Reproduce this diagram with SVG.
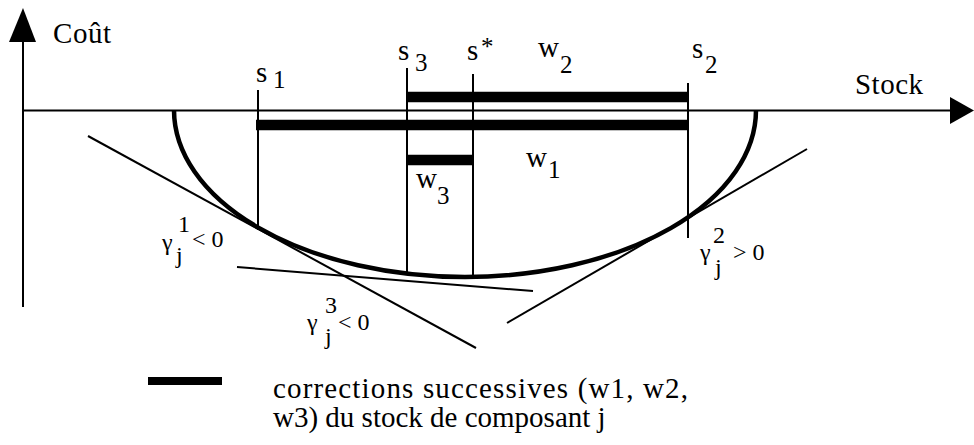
<svg xmlns="http://www.w3.org/2000/svg" width="974" height="445" viewBox="0 0 974 445">
<style>
text{font-family:"Liberation Serif","DejaVu Serif",serif;fill:#000}
.t{font-size:29px}
.sub{font-size:25px}
.g{font-size:24px}
.thin{stroke:#000;stroke-width:2;fill:none}
.bar{stroke:#000;stroke-width:10.5;fill:none}
.curve{stroke:#000;stroke-width:4.5;fill:none}
</style>
<rect width="974" height="445" fill="#fff"/>
<g id="axes">
<line class="thin" x1="23" y1="40" x2="23" y2="307"/>
<polygon points="23,8 9,42 36,42" fill="#000"/>
<line class="thin" x1="23" y1="110.5" x2="952" y2="110.5"/>
<polygon points="974,110.5 950,97 950,124" fill="#000"/>
<text class="t" x="53" y="43" textLength="58">Coût</text>
<text class="t" x="855" y="94" textLength="68">Stock</text>
</g>
<g id="curve">
<path class="curve" d="M174 110 A291 167 0 0 0 756 110"/>
</g>
<g id="connectors">
<line class="thin" x1="88" y1="136" x2="476" y2="348"/>
<line class="thin" x1="237" y1="267" x2="533" y2="291"/>
<line class="thin" x1="507" y1="323" x2="807" y2="149"/>
</g>
<g id="verticals">
<line class="thin" x1="258" y1="90" x2="258" y2="230"/>
<line class="thin" x1="407" y1="68" x2="407" y2="273"/>
<line class="thin" x1="473" y1="74" x2="473" y2="277"/>
<line class="thin" x1="688" y1="83" x2="688" y2="238"/>
</g>
<g id="bars">
<line class="bar" x1="407" y1="97" x2="688" y2="97"/>
<line class="bar" x1="256" y1="125" x2="688" y2="125"/>
<line class="bar" x1="407" y1="160" x2="473" y2="160"/>
</g>
<g id="labels">
<text class="t" x="256" y="82">s</text><text class="sub" x="273" y="88">1</text>
<text class="t" x="398" y="60">s</text><text class="sub" x="415" y="71">3</text>
<text class="t" x="467" y="60">s</text><text class="sub" x="481" y="55">*</text>
<text class="t" x="692" y="58">s</text><text class="sub" x="705" y="73">2</text>
<text class="t" x="538" y="57">w</text><text class="sub" x="560" y="73">2</text>
<text class="t" x="526" y="167">w</text><text class="sub" x="548" y="178">1</text>
<text class="t" x="416" y="188">w</text><text class="sub" x="437" y="204">3</text>
</g>
<g id="gamma1">
<text class="g" x="162" y="250">γ</text><text class="g" x="178" y="232">1</text><text class="g" x="176" y="263">j</text><text class="g" x="192" y="247">&lt; 0</text>
</g>
<g id="gamma3">
<text class="g" x="307" y="330">γ</text><text class="g" x="325" y="313">3</text><text class="g" x="325" y="344">j</text><text class="g" x="338" y="330">&lt; 0</text>
</g>
<g id="gamma2">
<text class="g" x="700" y="260">γ</text><text class="g" x="713" y="243">2</text><text class="g" x="715" y="275">j</text><text class="g" x="733" y="260">&gt; 0</text>
</g>
<g id="legend">
<line x1="148" y1="381" x2="222" y2="381" stroke="#000" stroke-width="8"/>
<text class="t" x="273" y="398" textLength="415" lengthAdjust="spacing">corrections successives (w1, w2,</text>
<text class="t" x="273" y="427">w3) du stock de composant j</text>
</g>
</svg>
